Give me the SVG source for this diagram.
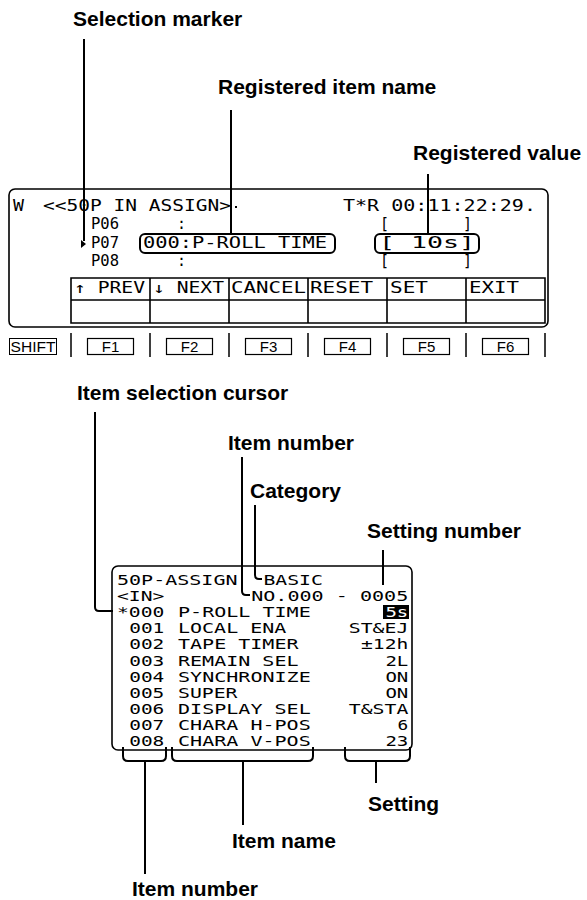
<svg xmlns="http://www.w3.org/2000/svg" width="587" height="900" viewBox="0 0 587 900">
<style>
.lbl{font-family:"Liberation Sans",Arial,sans-serif;font-weight:bold;font-size:21px;fill:#000}
.lcd{font-family:"DejaVu Sans Mono","Liberation Mono",monospace;font-size:15px;fill:#000}
.lcd2{font-family:"DejaVu Sans Mono","Liberation Mono",monospace;font-size:13.8px;fill:#000}
.key{font-family:"Liberation Sans",Arial,sans-serif;font-size:15px;fill:#000}
.frame{fill:none;stroke:#000;stroke-width:1.6}
.tbl{fill:none;stroke:#000;stroke-width:1.6}
.hl{fill:none;stroke:#000;stroke-width:2}
.lead{fill:none;stroke:#000;stroke-width:2}
.brk{fill:none;stroke:#000;stroke-width:1.6}
</style>
<rect width="587" height="900" fill="#fff"/>

<g id="label-selection-marker"><text class="lbl" x="73" y="26">Selection marker</text></g>
<g id="label-registered-item-name"><text class="lbl" x="218" y="94">Registered item name</text></g>
<g id="label-registered-value"><text class="lbl" x="413" y="160">Registered value</text></g>

<g id="screen-top">
  <rect class="frame" x="9" y="189" width="539" height="138" rx="6"/>
  <text class="lcd" x="13" y="211" textLength="11" lengthAdjust="spacingAndGlyphs">W</text>
  <text class="lcd" x="43" y="211" textLength="188" lengthAdjust="spacingAndGlyphs">&lt;&lt;50P IN ASSIGN&gt;</text>
  <rect x="235" y="206" width="2" height="2" fill="#000"/>
  <text class="lcd" x="343" y="211" textLength="193" lengthAdjust="spacingAndGlyphs">T*R 00:11:22:29.</text>
  <text class="lcd" x="91" y="229" textLength="28" lengthAdjust="spacingAndGlyphs">P06</text>
  <text class="lcd" x="177" y="229" textLength="9" lengthAdjust="spacingAndGlyphs">:</text>
  <text class="lcd" x="380" y="229" textLength="9" lengthAdjust="spacingAndGlyphs" transform="rotate(0.01 384 225)">[</text>
  <text class="lcd" x="463" y="229" textLength="9" lengthAdjust="spacingAndGlyphs" transform="rotate(0.01 467 225)">]</text>
  <path d="M81 240 L86 244 L81 248 Z" fill="#000"/>
  <text class="lcd" x="91" y="248" textLength="28" lengthAdjust="spacingAndGlyphs">P07</text>
  <rect class="hl" x="140" y="234" width="195" height="19" rx="5"/>
  <text class="lcd" x="143" y="248" textLength="184" lengthAdjust="spacingAndGlyphs">000:P-ROLL TIME</text>
  <rect class="hl" x="375" y="234" width="104" height="19" rx="5"/>
  <text class="lcd" x="379" y="248" textLength="96" lengthAdjust="spacingAndGlyphs">[    10s]</text>
  <text class="lcd" x="91" y="266" textLength="28" lengthAdjust="spacingAndGlyphs">P08</text>
  <text class="lcd" x="177" y="266" textLength="9" lengthAdjust="spacingAndGlyphs">:</text>
  <text class="lcd" x="380" y="266" textLength="9" lengthAdjust="spacingAndGlyphs" transform="rotate(0.01 384 262)">[</text>
  <text class="lcd" x="463" y="266" textLength="9" lengthAdjust="spacingAndGlyphs" transform="rotate(0.01 467 262)">]</text>
  <path class="tbl" d="M71 278 H545 V323 H71 Z M71 300 H545 M150 278 V323 M229 278 V323 M308 278 V323 M387 278 V323 M466 278 V323"/>
  <text class="lcd" x="74" y="293" textLength="71" lengthAdjust="spacingAndGlyphs">↑ PREV</text>
  <text class="lcd" x="153" y="293" textLength="71" lengthAdjust="spacingAndGlyphs">↓ NEXT</text>
  <text class="lcd" x="231" y="293" textLength="75" lengthAdjust="spacingAndGlyphs">CANCEL</text>
  <text class="lcd" x="310" y="293" textLength="63" lengthAdjust="spacingAndGlyphs">RESET</text>
  <text class="lcd" x="390" y="293" textLength="38" lengthAdjust="spacingAndGlyphs">SET</text>
  <text class="lcd" x="469" y="293" textLength="50" lengthAdjust="spacingAndGlyphs">EXIT</text>
</g>

<g id="function-keys">
  <rect x="9.5" y="338.5" width="47" height="16" fill="none" stroke="#000" stroke-width="1"/>
  <text class="key" x="33" y="352" text-anchor="middle" textLength="45" lengthAdjust="spacingAndGlyphs">SHIFT</text>
  <path d="M71 333 V357 M150 333 V357 M229 333 V357 M308 333 V357 M387 333 V357 M466 333 V357 M545 333 V357" stroke="#000" stroke-width="1.5"/>
  <rect x="87.5" y="338.5" width="46" height="16" fill="none" stroke="#000" stroke-width="1.2"/>
  <text class="key" x="110.5" y="352" text-anchor="middle">F1</text>
  <rect x="166.5" y="338.5" width="46" height="16" fill="none" stroke="#000" stroke-width="1.2"/>
  <text class="key" x="189.5" y="352" text-anchor="middle">F2</text>
  <rect x="245.5" y="338.5" width="46" height="16" fill="none" stroke="#000" stroke-width="1.2"/>
  <text class="key" x="268.5" y="352" text-anchor="middle">F3</text>
  <rect x="324.5" y="338.5" width="46" height="16" fill="none" stroke="#000" stroke-width="1.2"/>
  <text class="key" x="347.5" y="352" text-anchor="middle">F4</text>
  <rect x="403.5" y="338.5" width="46" height="16" fill="none" stroke="#000" stroke-width="1.2"/>
  <text class="key" x="426.5" y="352" text-anchor="middle">F5</text>
  <rect x="482.5" y="338.5" width="46" height="16" fill="none" stroke="#000" stroke-width="1.2"/>
  <text class="key" x="505.5" y="352" text-anchor="middle">F6</text>
</g>

<g id="label-item-selection-cursor"><text class="lbl" x="77" y="400">Item selection cursor</text></g>
<g id="label-item-number-top"><text class="lbl" x="228" y="450">Item number</text></g>
<g id="label-category"><text class="lbl" x="250" y="498">Category</text></g>
<g id="label-setting-number"><text class="lbl" x="367" y="538">Setting number</text></g>

<g id="screen-bottom">
  <rect class="frame" x="112" y="566" width="300" height="184" rx="6"/>
  <text class="lcd2" x="117" y="585" textLength="120.5" lengthAdjust="spacingAndGlyphs">50P-ASSIGN</text>
  <text class="lcd2" x="263.4" y="585" textLength="59.5" lengthAdjust="spacingAndGlyphs">BASIC</text>
  <text class="lcd2" x="117" y="601.1" textLength="47.3" lengthAdjust="spacingAndGlyphs">&lt;IN&gt;</text>
  <text class="lcd2" x="251.2" y="601.1" textLength="157.1" lengthAdjust="spacingAndGlyphs">NO.000 - 0005</text>
  <text class="lcd2" x="117" y="617.2" textLength="47.3" lengthAdjust="spacingAndGlyphs">*000</text>
  <text class="lcd2" x="178" y="617.2" textLength="132.7" lengthAdjust="spacingAndGlyphs">P-ROLL TIME</text>
  <rect x="383" y="605" width="26" height="14" fill="#000"/>
  <text class="lcd2" x="385.4" y="617.2" textLength="22.9" lengthAdjust="spacingAndGlyphs" style="fill:#fff">5s</text>
  <text class="lcd2" x="129.2" y="633.3" textLength="35.1" lengthAdjust="spacingAndGlyphs">001</text>
  <text class="lcd2" x="178" y="633.3" textLength="108.3" lengthAdjust="spacingAndGlyphs">LOCAL ENA</text>
  <text class="lcd2" x="348.8" y="633.3" textLength="59.5" lengthAdjust="spacingAndGlyphs">ST&amp;EJ</text>
  <text class="lcd2" x="129.2" y="649.4" textLength="35.1" lengthAdjust="spacingAndGlyphs">002</text>
  <text class="lcd2" x="178" y="649.4" textLength="120.5" lengthAdjust="spacingAndGlyphs">TAPE TIMER</text>
  <text class="lcd2" x="361" y="649.4" textLength="47.3" lengthAdjust="spacingAndGlyphs">±12h</text>
  <text class="lcd2" x="129.2" y="665.5" textLength="35.1" lengthAdjust="spacingAndGlyphs">003</text>
  <text class="lcd2" x="178" y="665.5" textLength="120.5" lengthAdjust="spacingAndGlyphs">REMAIN SEL</text>
  <text class="lcd2" x="385.4" y="665.5" textLength="22.9" lengthAdjust="spacingAndGlyphs">2L</text>
  <text class="lcd2" x="129.2" y="681.6" textLength="35.1" lengthAdjust="spacingAndGlyphs">004</text>
  <text class="lcd2" x="178" y="681.6" textLength="132.7" lengthAdjust="spacingAndGlyphs">SYNCHRONIZE</text>
  <text class="lcd2" x="385.4" y="681.6" textLength="22.9" lengthAdjust="spacingAndGlyphs">ON</text>
  <text class="lcd2" x="129.2" y="697.7" textLength="35.1" lengthAdjust="spacingAndGlyphs">005</text>
  <text class="lcd2" x="178" y="697.7" textLength="59.5" lengthAdjust="spacingAndGlyphs">SUPER</text>
  <text class="lcd2" x="385.4" y="697.7" textLength="22.9" lengthAdjust="spacingAndGlyphs">ON</text>
  <text class="lcd2" x="129.2" y="713.8" textLength="35.1" lengthAdjust="spacingAndGlyphs">006</text>
  <text class="lcd2" x="178" y="713.8" textLength="132.7" lengthAdjust="spacingAndGlyphs">DISPLAY SEL</text>
  <text class="lcd2" x="348.8" y="713.8" textLength="59.5" lengthAdjust="spacingAndGlyphs">T&amp;STA</text>
  <text class="lcd2" x="129.2" y="729.9" textLength="35.1" lengthAdjust="spacingAndGlyphs">007</text>
  <text class="lcd2" x="178" y="729.9" textLength="132.7" lengthAdjust="spacingAndGlyphs">CHARA H-POS</text>
  <text class="lcd2" x="397.6" y="729.9" textLength="10.7" lengthAdjust="spacingAndGlyphs">6</text>
  <text class="lcd2" x="129.2" y="746" textLength="35.1" lengthAdjust="spacingAndGlyphs">008</text>
  <text class="lcd2" x="178" y="746" textLength="132.7" lengthAdjust="spacingAndGlyphs">CHARA V-POS</text>
  <text class="lcd2" x="385.4" y="746" textLength="22.9" lengthAdjust="spacingAndGlyphs">23</text>
</g>

<g id="label-setting"><text class="lbl" x="368" y="811">Setting</text></g>
<g id="label-item-name"><text class="lbl" x="232" y="848">Item name</text></g>
<g id="label-item-number-bottom"><text class="lbl" x="132" y="896">Item number</text></g>

<g id="connectors">
  <path class="lead" d="M84 39 V241"/>
  <path class="lead" d="M231 110 V234"/>
  <path class="lead" d="M428 174 V234"/>
  <path class="lead" d="M95 412 V607 Q95 611 99 611 H113"/>
  <path class="lead" d="M242 457 V591 Q242 595 246 595 H250"/>
  <path class="lead" d="M255 505 V575 Q255 579 259 579 H262"/>
  <path class="lead" d="M383 550 V585"/>
  <path class="lead" d="M123 747 V756 Q123 761 128 761 H161 Q166 761 166 756 V747 M145 761 V874"/>
  <path class="lead" d="M172 747 V756 Q172 761 177 761 H308 Q313 761 313 756 V747 M243 761 V825"/>
  <path class="lead" d="M345 747 V756 Q345 761 350 761 H405 Q410 761 410 756 V747 M376 761 V783"/>
</g>
</svg>
